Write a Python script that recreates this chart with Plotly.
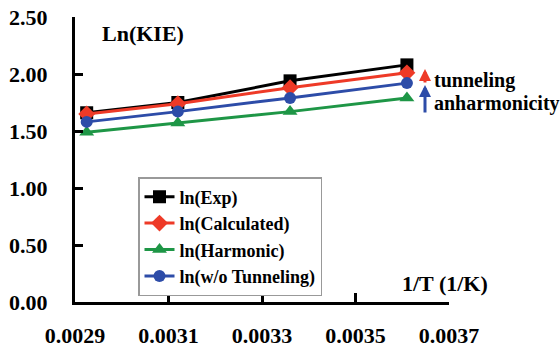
import plotly.graph_objects as go

inv_T = [0.002925, 0.00312, 0.00336, 0.00361]
ln_exp = [1.66, 1.75, 1.94, 2.08]
ln_calc = [1.65, 1.74, 1.88, 2.01]
ln_harm = [1.49, 1.57, 1.67, 1.79]
ln_wot = [1.58, 1.67, 1.79, 1.92]

series_names = ["ln(Exp)", "ln(Calculated)", "ln(Harmonic)", "ln(w/o Tunneling)"]
y_ticks = [0, 0.5, 1.0, 1.5, 2.0, 2.5]
x_ticks = [0.0029, 0.0031, 0.0033, 0.0035, 0.0037]

W, H = 560, 347
L, R, T, B = 75, 111, 17, 45
FONT = "Liberation Serif, Times New Roman, serif"

fig = go.Figure()
styles = [
    (ln_exp, "#000000", "square", 13),
    (ln_calc, "#ee3a27", "diamond", 13),
    (ln_harm, "#1e9646", "triangle-up", 13),
    (ln_wot, "#2d4ca8", "circle", 12),
]
for name, (vals, col, sym, sz) in zip(series_names, styles):
    fig.add_trace(go.Scatter(
        x=inv_T, y=vals, name=name, mode="lines+markers",
        line=dict(color=col, width=3),
        marker=dict(symbol=sym, size=sz, color=col),
        cliponaxis=False,
    ))

PW, PH = W - L - R, H - T - B

def px(xp):
    return (xp - L) / PW

def py(yp):
    return (H - B - yp) / PH

annotations = [
    dict(text="Ln(KIE)", x=px(100), y=py(34), xref="paper", yref="paper",
         xanchor="left", yanchor="middle", showarrow=False,
         font=dict(family=FONT, size=22, color="black", weight="bold")),
    dict(text="1/T (1/K)", x=px(400), y=py(283), xref="paper", yref="paper",
         xanchor="left", yanchor="middle", showarrow=False,
         font=dict(family=FONT, size=22, color="black", weight="bold")),
    dict(text="tunneling", x=px(432), y=py(80), xref="paper", yref="paper",
         xanchor="left", yanchor="middle", showarrow=False,
         font=dict(family=FONT, size=20, color="black", weight="bold")),
    dict(text="anharmonicity", x=px(432), y=py(103), xref="paper", yref="paper",
         xanchor="left", yanchor="middle", showarrow=False,
         font=dict(family=FONT, size=20, color="black", weight="bold")),
    dict(text="", x=px(425), y=py(69), ax=0, ay=15, xref="paper", yref="paper",
         axref="pixel", ayref="pixel", showarrow=True, arrowhead=2, arrowsize=0.8,
         arrowwidth=3, arrowcolor="#ee3a27"),
    dict(text="", x=px(425), y=py(85), ax=0, ay=29, xref="paper", yref="paper",
         axref="pixel", ayref="pixel", showarrow=True, arrowhead=2, arrowsize=0.8,
         arrowwidth=3, arrowcolor="#2d4ca8"),
]

fig.update_layout(
    width=W, height=H,
    margin=dict(l=L, r=R, t=T, b=B, pad=0),
    paper_bgcolor="white", plot_bgcolor="white",
    font=dict(family=FONT, color="black"),
    showlegend=True,
    legend=dict(
        x=px(138), y=py(177), xanchor="left", yanchor="top",
        bgcolor="white", bordercolor="#999999", borderwidth=1.5,
        font=dict(family=FONT, size=18, color="black", weight="bold"),
        tracegroupgap=0, itemwidth=30,
    ),
    xaxis=dict(
        range=[0.0029, 0.0037], tickvals=x_ticks, tickformat=".4f",
        showline=True, linecolor="black", linewidth=3,
        ticks="inside", ticklen=9, tickwidth=2.5, tickcolor="black",
        showgrid=False, zeroline=False, automargin=False,
        ticklabelstandoff=12,
        tickfont=dict(family=FONT, size=22, color="black", weight="bold"),
    ),
    yaxis=dict(
        range=[0, 2.5], tickvals=y_ticks, tickformat=".2f",
        showline=True, linecolor="black", linewidth=3,
        ticks="inside", ticklen=8, tickwidth=2.5, tickcolor="black",
        showgrid=False, zeroline=False, automargin=False,
        ticklabelstandoff=20,
        tickfont=dict(family=FONT, size=22, color="black", weight="bold"),
    ),
    annotations=annotations,
)

fig.write_html("out.html")
